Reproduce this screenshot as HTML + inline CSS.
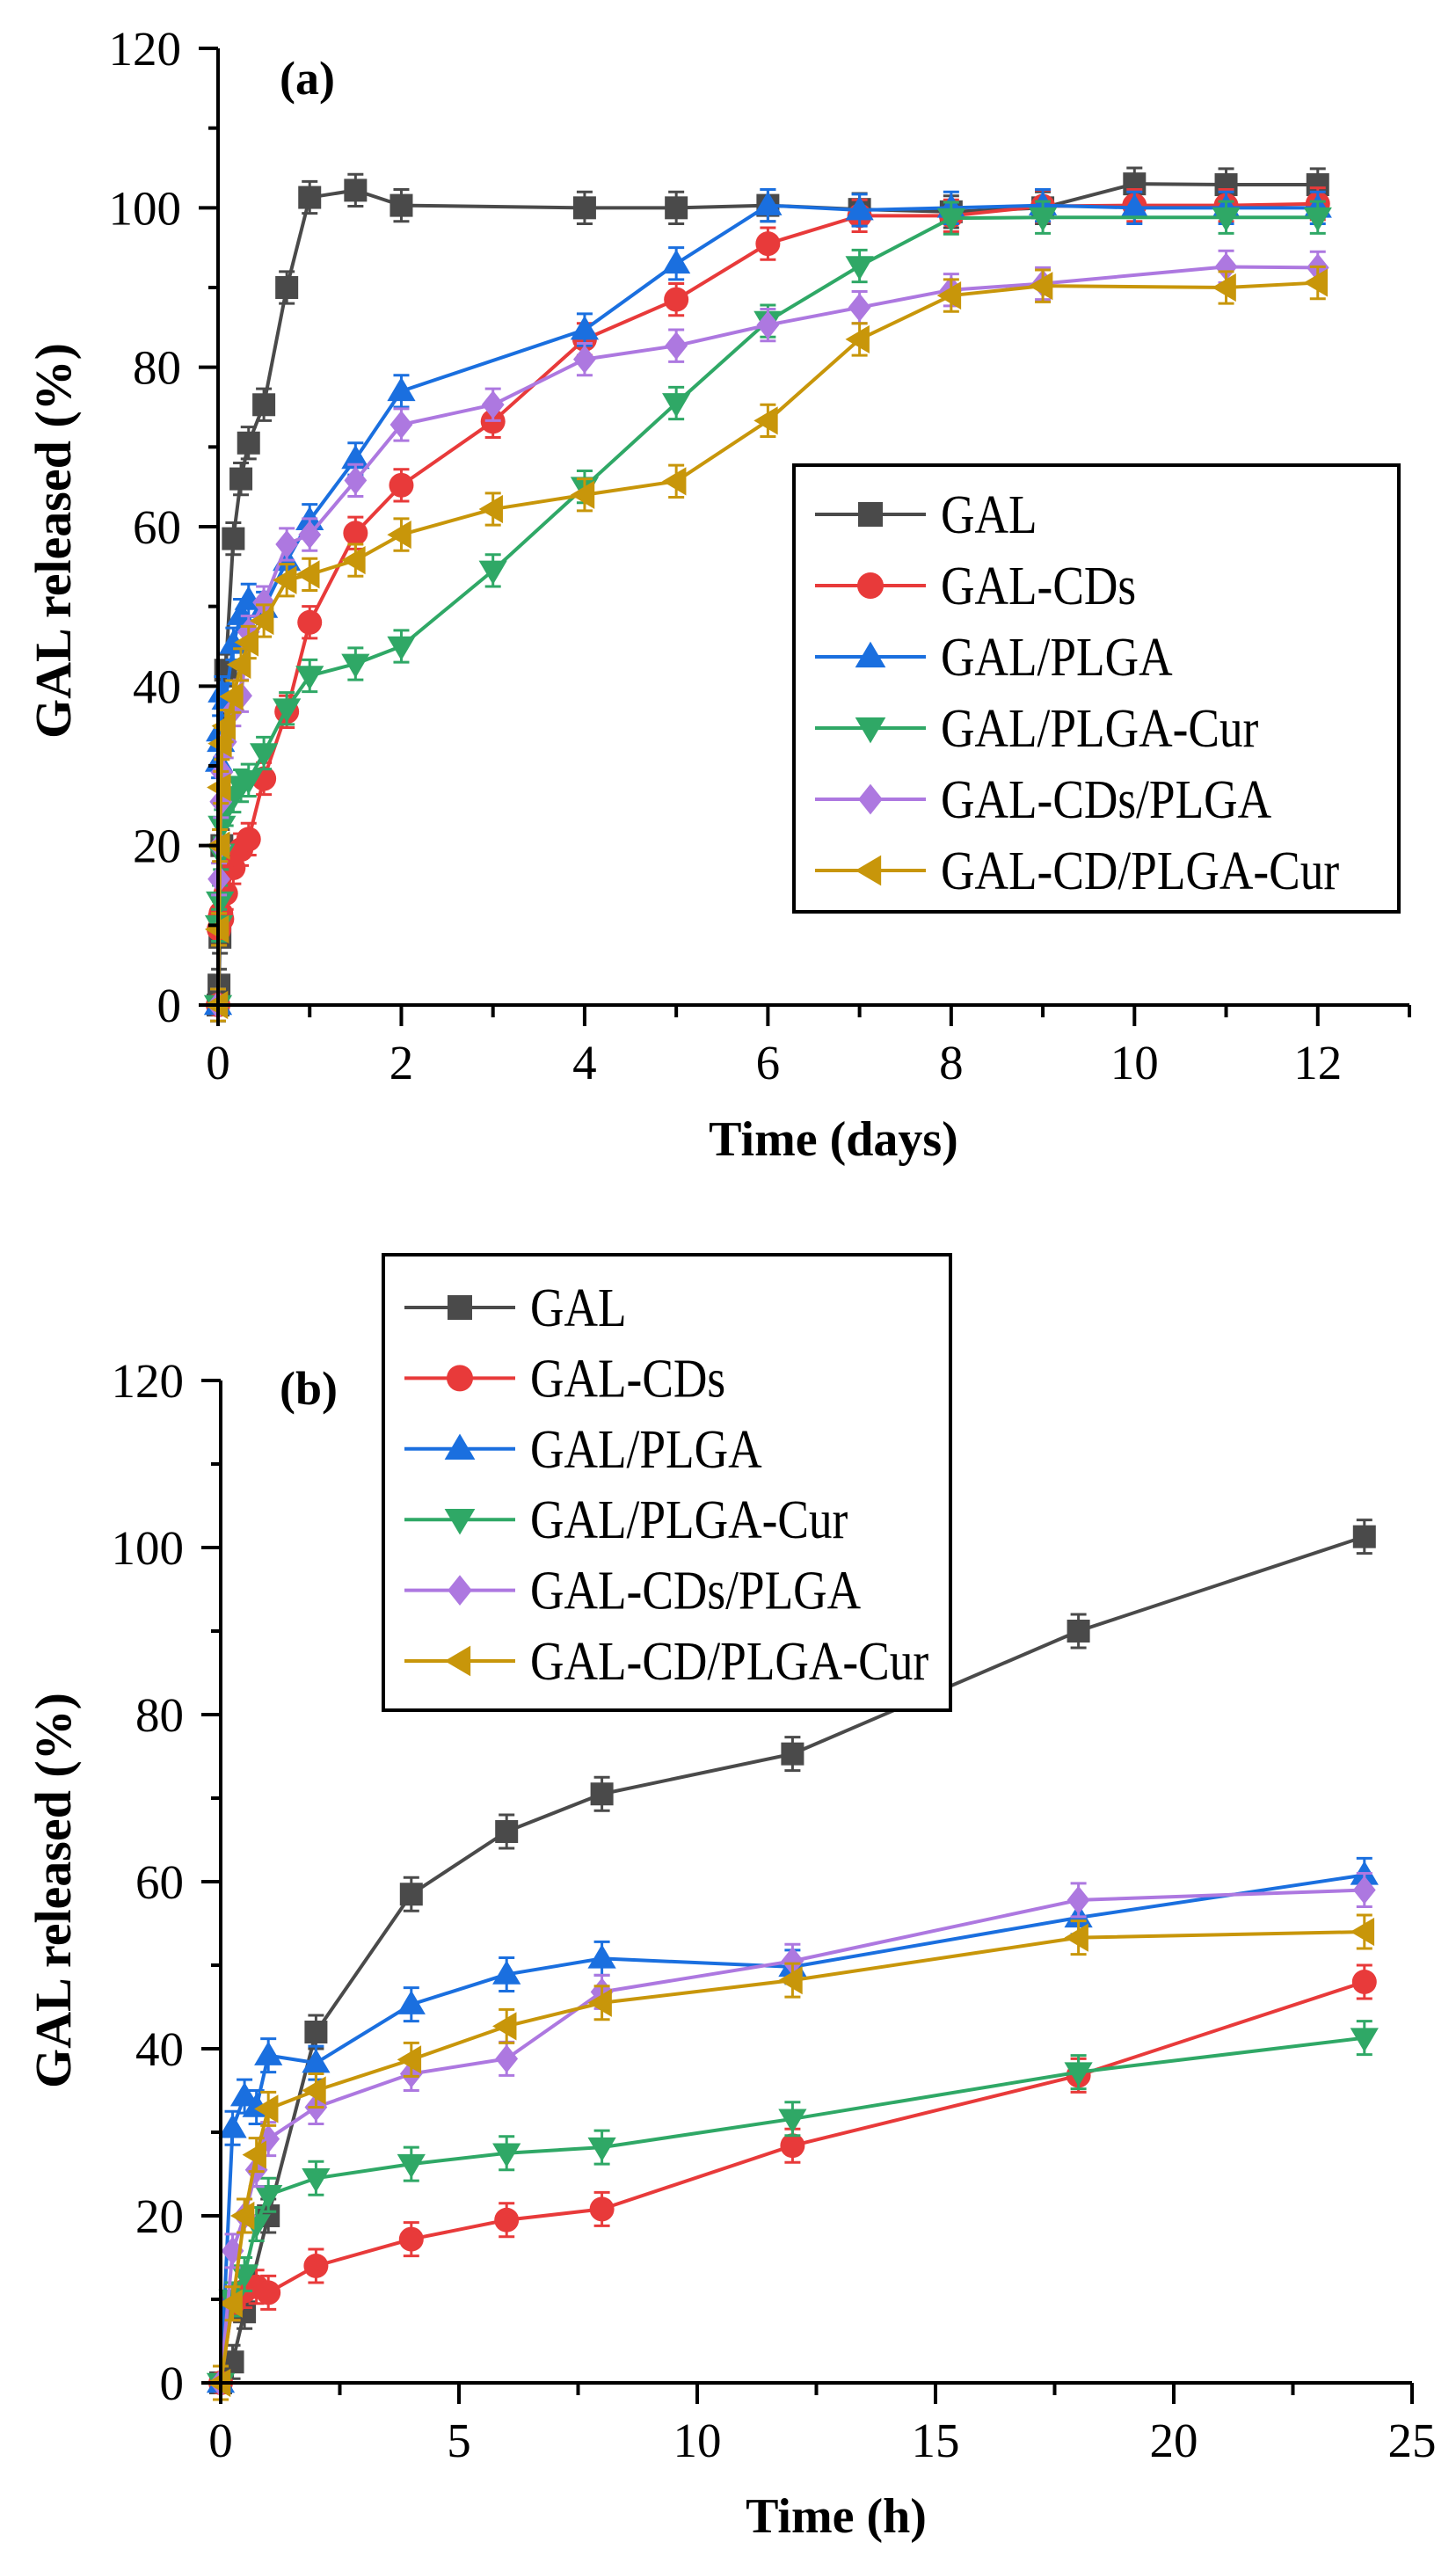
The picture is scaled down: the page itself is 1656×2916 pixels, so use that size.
<!DOCTYPE html>
<html><head><meta charset="utf-8"><style>
html,body{margin:0;padding:0;background:#fff}
svg{display:block}
text{font-family:"Liberation Serif",serif;fill:#000}
</style></head><body>
<svg id="fig" width="1656" height="2916" viewBox="0 0 1656 2916" xmlns="http://www.w3.org/2000/svg"></svg>
<script>
const seriesNames=["GAL","GAL-CDs","GAL/PLGA","GAL/PLGA-Cur","GAL-CDs/PLGA","GAL-CD/PLGA-Cur"];
const seriesColors=["#4a4a4a","#e83a3a","#1a6fdf","#2fa866","#ad78e0","#c8960a"];
const seriesMarkers=["square","circle","up","down","diamond","left"];
// panel (b): hours
const hoursGAL=[0,0.25,0.5,1,2,4,6,8,12,18,24];
const valsGAL=[0,2.5,8.5,20,42,58.5,66,70.5,75.3,90,101.3];
const hoursCDs=[0,0.25,0.5,0.75,1,2,4,6,8,12,18,24];
const valsCDs=[0,9.5,11,11.5,10.8,14,17.2,19.5,20.8,28.4,36.8,48];
const hoursPLGA=[0,0.25,0.5,0.75,1,2,4,6,8,12,18,24];
const valsPLGA=[0,30.5,34.3,33,39.2,38.3,45.3,48.9,50.8,49.8,55.7,60.8];
const hoursPLGACur=[0,0.25,0.5,0.75,1,2,4,6,8,12,18,24];
const valsPLGACur=[0,10,13,19,22.5,24.5,26.2,27.5,28.2,31.6,37.2,41.3];
const hoursCDsPLGA=[0,0.25,0.5,0.75,1,2,4,6,8,12,18,24];
const valsCDsPLGA=[0,15.8,20,25.5,29.2,33,37,38.8,46.8,50.5,57.8,59];
const hoursCDPLGACur=[0,0.25,0.5,0.75,1,2,4,6,8,12,18,24];
const valsCDPLGACur=[0,9.5,20,27.3,32.8,35,38.7,42.7,45.5,48.2,53.3,54];
// panel (a): additional day points (after day 1)
const daysGAL=[1.5,2,4,5,6,7,8,9,10,11,12];
const dvalsGAL=[102.2,100.3,100,100,100.3,99.8,99.5,100,103,102.9,102.9];
const daysCDs=[1.5,2,3,4,5,6,7,8,9,10,11,12];
const dvalsCDs=[59.2,65.2,73.2,83.5,88.5,95.5,99,99,100.2,100.3,100.3,100.5];
const daysPLGA=[1.5,2,4,5,6,7,8,9,10,11,12];
const dvalsPLGA=[68.5,77,84.7,93,100.3,99.7,100,100.3,100,100,100];
const daysPLGACur=[1.5,2,3,4,5,6,7,8,9,11,12];
const dvalsPLGACur=[42.8,45,54.5,65,75.5,85.8,92.7,98.7,98.8,98.8,98.8];
const daysCDsPLGA=[1.5,2,3,4,5,6,7,8,9,11,12];
const dvalsCDsPLGA=[65.8,72.8,75.3,81,82.7,85.3,87.5,89.7,90.5,92.6,92.5];
const daysCDPLGACur=[1.5,2,3,4,5,6,7,8,9,11,12];
const dvalsCDPLGACur=[55.8,59,62.2,64,65.7,73.3,83.5,89,90.2,90,90.6];
const yTickLabels=["0","20","40","60","80","100","120"];
const xTickLabelsA=["0","2","4","6","8","10","12"];
const xTickLabelsB=["0","5","10","15","20","25"];

const NS="http://www.w3.org/2000/svg";
const svg=document.getElementById('fig');
function el(tag,attrs,parent){const e=document.createElementNS(NS,tag);for(const k in attrs)e.setAttribute(k,attrs[k]);(parent||svg).appendChild(e);return e;}

function marker(g,type,cx,cy,s,color){
  let m;
  if(type==="square") m=el('rect',{x:cx-s/2,y:cy-s/2,width:s,height:s,fill:color},g);
  else if(type==="circle") m=el('circle',{cx:cx,cy:cy,r:s/2+1,fill:color},g);
  else {
    const r=s*0.62;let p;
    if(type==="up") p=[[cx,cy-r],[cx+r,cy+r*0.7],[cx-r,cy+r*0.7]];
    else if(type==="down") p=[[cx,cy+r],[cx+r,cy-r*0.7],[cx-r,cy-r*0.7]];
    else if(type==="diamond") p=[[cx,cy-r],[cx+r*0.8,cy],[cx,cy+r],[cx-r*0.8,cy]];
    else p=[[cx-r,cy],[cx+r*0.7,cy-r],[cx+r*0.7,cy+r]];
    m=el('polygon',{points:p.map(q=>q.join(',')).join(' '),fill:color},g);
  }
  return m;
}

function panel(cfg){
  const g=el('g',{});
  
  
  const X=v=>cfg.x0+(v-cfg.xmin)/(cfg.xmax-cfg.xmin)*(cfg.x1-cfg.x0);
  const Y=v=>cfg.yb+(v-0)/(120-0)*(cfg.yt-cfg.yb);
  cfg.series.forEach((s,i)=>{
    const sg=el('g',{},g);
    
    
    const pts=s.x.map((xv,j)=>[X(xv),Y(s.y[j])]);
    el('polyline',{points:pts.map(p=>p.join(',')).join(' '),fill:'none',stroke:seriesColors[i],'stroke-width':4,'stroke-linejoin':'round'},sg);
    pts.forEach((p,j)=>{
      const eh=Math.abs(Y(0)-Y(2));
      el('line',{x1:p[0],y1:p[1]-eh,x2:p[0],y2:p[1]+eh,stroke:seriesColors[i],'stroke-width':3},sg);
      el('line',{x1:p[0]-9,y1:p[1]-eh,x2:p[0]+9,y2:p[1]-eh,stroke:seriesColors[i],'stroke-width':3},sg);
      el('line',{x1:p[0]-9,y1:p[1]+eh,x2:p[0]+9,y2:p[1]+eh,stroke:seriesColors[i],'stroke-width':3},sg);
      const m=marker(sg,seriesMarkers[i],p[0],p[1],26,seriesColors[i]);
      
      
    });
  });
  const ax=el('g',{},g);
  
  
  el('line',{x1:cfg.x0,y1:cfg.yt,x2:cfg.x0,y2:cfg.yb+2,stroke:'#000','stroke-width':4},ax);
  el('line',{x1:cfg.x0-2,y1:cfg.yb,x2:cfg.x1,y2:cfg.yb,stroke:'#000','stroke-width':4},ax);
  for(let v=0;v<=120;v+=10){
    const major=v%20===0;
    el('line',{x1:cfg.x0-(major?22:11),y1:Y(v),x2:cfg.x0,y2:Y(v),stroke:'#000','stroke-width':4},ax);
  }
  yTickLabels.forEach(t=>{
    const tx=el('text',{x:cfg.x0-42,y:Y(+t)+19,'font-size':55,'text-anchor':'end'},ax);
    tx.textContent=t;
    
    
  });
  for(let v=cfg.xmin;v<=cfg.xmax+1e-9;v+=cfg.minorStep){
    const major=Math.abs(v/cfg.majorStep-Math.round(v/cfg.majorStep))<1e-6;
    el('line',{x1:X(v),y1:cfg.yb,x2:X(v),y2:cfg.yb+(major?24:14),stroke:'#000','stroke-width':4},ax);
  }
  cfg.xLabels.forEach(t=>{
    const tx=el('text',{x:X(+t),y:cfg.yb+84,'font-size':55,'text-anchor':'middle'},ax);
    tx.textContent=t;
    
    
  });
  const xt=el('text',{x:cfg.xtx,y:cfg.xty,'font-size':56,'font-weight':'bold','text-anchor':'middle'},g);
  xt.textContent=cfg.xTitle;
  
  
  const yt=el('text',{x:0,y:0,'font-size':58,'font-weight':'bold','text-anchor':'middle',transform:`translate(${cfg.ytx},${cfg.yty}) rotate(-90)`},g);
  yt.textContent="GAL released (%)";
  
  
  const pl=el('text',{x:cfg.plx,y:cfg.ply,'font-size':54,'font-weight':'bold'},g);
  pl.textContent=cfg.panelLabel;
  
  
  const lg=el('g',{},g);
  
  
  el('rect',{x:cfg.lx,y:cfg.ly,width:cfg.lw,height:cfg.lh,fill:'#fff',stroke:'#000','stroke-width':4},lg);
  seriesNames.forEach((n,i)=>{
    const ey=cfg.ly+cfg.lrow0+i*cfg.lstep;
    const eg=el('g',{},lg);
    
    
    el('line',{x1:cfg.lx+24,y1:ey,x2:cfg.lx+150,y2:ey,stroke:seriesColors[i],'stroke-width':4},eg);
    marker(eg,seriesMarkers[i],cfg.lx+87,ey,28,seriesColors[i]);
    const tx=cfg.lx+167;
    const t=el('text',{x:0,y:0,'font-size':62,transform:`translate(${tx},${ey+21}) scale(0.86,1)`},eg);
    t.textContent=n;
  });
}

const toDays=a=>a.map(h=>h/24);
const hourSets=[[hoursGAL,valsGAL],[hoursCDs,valsCDs],[hoursPLGA,valsPLGA],[hoursPLGACur,valsPLGACur],[hoursCDsPLGA,valsCDsPLGA],[hoursCDPLGACur,valsCDPLGACur]];
const daySets=[[daysGAL,dvalsGAL],[daysCDs,dvalsCDs],[daysPLGA,dvalsPLGA],[daysPLGACur,dvalsPLGACur],[daysCDsPLGA,dvalsCDsPLGA],[daysCDPLGACur,dvalsCDPLGACur]];

panel({name:'chart-a',x0:248,x1:1603,xmin:0,xmax:13,yt:55,yb:1143,majorStep:2,minorStep:1,xLabels:xTickLabelsA,
  xTitle:'Time (days)',xtx:948,xty:1314,ytx:80,yty:615,panelLabel:'(a)',plx:318,ply:107,
  lx:903,ly:529,lw:688,lh:508,lrow0:56,lstep:81,
  series:hourSets.map((s,i)=>({x:toDays(s[0]).concat(daySets[i][0]),y:s[1].concat(daySets[i][1])}))});

panel({name:'chart-b',x0:251,x1:1606,xmin:0,xmax:25,yt:1570,yb:2710,majorStep:5,minorStep:2.5,xLabels:xTickLabelsB,
  xTitle:'Time (h)',xtx:951,xty:2880,ytx:80,yty:2150,panelLabel:'(b)',plx:318,ply:1597,
  lx:436,ly:1427,lw:645,lh:518,lrow0:60,lstep:80.4,
  series:hourSets.map(s=>({x:s[0],y:s[1]}))});
</script>
</body></html>
